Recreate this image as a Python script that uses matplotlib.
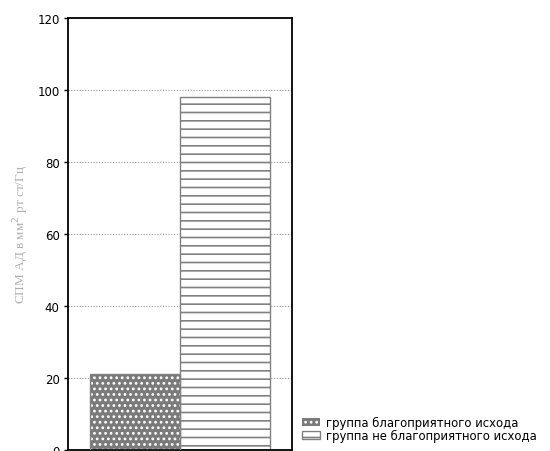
import matplotlib
matplotlib.use("Agg")
import matplotlib.pyplot as plt
from matplotlib.patches import Patch

groups = ["группа благоприятного исхода", "группа не благоприятного исхода"]
values = [21, 98]
yticks = [0, 20, 40, 60, 80, 100, 120]
ylabel = "СПМ АД в мм$^2$ рт ст/Гц"

plt.rcParams["hatch.linewidth"] = 1.2

fig = plt.figure(figsize=(5.5, 4.52), dpi=100)
ax = fig.add_axes([68 / 550, 1 - 451 / 452, 224 / 550, 432 / 452])

x = [0, 1]
# first bar: grey with white cross pattern
ax.bar(x[0], values[0], width=1, color="#7a7a7a", edgecolor="white", hatch="...", lw=0, zorder=2)
ax.bar(x[0], values[0], width=1, color="none", edgecolor="#808080", lw=1, zorder=3)
# second bar: white with grey horizontal lines
ax.bar(x[1], values[1], width=1, color="white", edgecolor="#808080", hatch="--", lw=1, zorder=2)

ax.set_xlim(-0.744, 1.744)
ax.set_ylim(0, 120)
ax.set_yticks(yticks)
ax.set_xticks([])
ax.yaxis.grid(True, linestyle=(0, (1, 1.5)), color="#999999", lw=0.8, zorder=0)
for s in ax.spines.values():
    s.set_linewidth(1.3)
ax.tick_params(axis="y", labelsize=8.5, length=3, width=1, pad=3)
ax.set_ylabel(ylabel, family="Liberation Serif", color="#b0b0b0", fontsize=9.5)
ax.yaxis.set_label_coords(-0.165, 0.5)

handles = [
    Patch(facecolor="#7a7a7a", edgecolor="white", hatch="...", lw=0),
    Patch(facecolor="white", edgecolor="#808080", hatch="--", lw=1),
]
fig.legend(handles, groups, loc="lower left", bbox_to_anchor=(302 / 550, 9 / 452),
           frameon=False, fontsize=8.4, handlelength=1.5, handleheight=0.7,
           handletextpad=0.6, labelspacing=0.0, borderpad=0, borderaxespad=0)

fig.savefig("out.png", dpi=100)
